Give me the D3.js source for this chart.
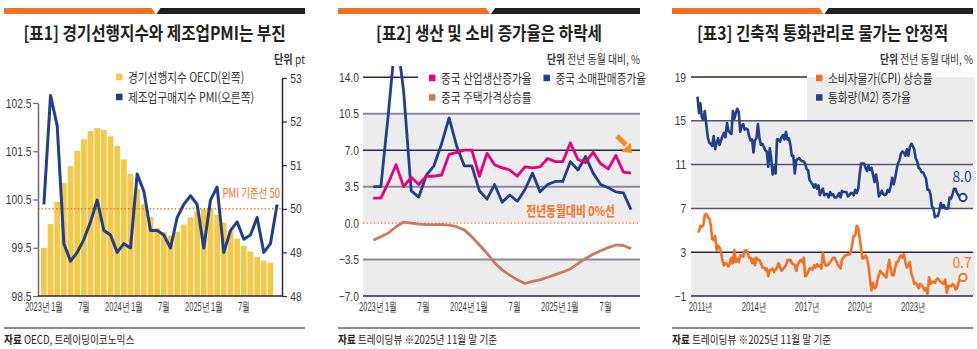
<!DOCTYPE html>
<html>
<head>
<meta charset="utf-8">
<script src="https://cdnjs.cloudflare.com/ajax/libs/d3/7.8.5/d3.min.js"></script>
<style>
  body { margin: 0; background: #fff; }
  svg { display: block; font-family: "Noto Sans CJK KR", "Noto Sans", sans-serif; }
</style>
</head>
<body>
<div id="chart"></div>
<script>
// ---- [표1] OECD CLI (left, bars) + China manufacturing PMI (right, line), 2023-01 ~ 2025-12
const oecdCli = [99.50, 99.99, 100.45, 100.84, 101.19, 101.51, 101.75, 101.92, 101.98, 101.94, 101.81, 101.61,
                 101.33, 101.03, 100.71, 100.40, 100.14, 99.91, 99.83, 99.75, 99.83, 99.98, 100.13, 100.25,
                 100.30, 100.30, 100.18, 100.02, 99.85, 99.69, 99.54, 99.42, 99.31, 99.23, 99.19];
const pmi = [50.1, 52.6, 51.9, 49.2, 48.8, 49.0, 49.3, 49.7, 50.2, 49.5, 49.4, 49.0,
             49.2, 49.1, 50.8, 50.4, 49.5, 49.5, 49.4, 49.1, 49.8, 50.1, 50.3, 50.1,
             49.1, 50.2, 50.5, 49.0, 49.5, 49.7, 49.3, 49.4, 49.8, 49.0, 49.2, 50.1];
const leftTicks1 = [98.5, 99.5, 100.5, 101.5, 102.5];
const rightTicks1 = [48, 49, 50, 51, 52, 53];
const monthTickIdx = [0, 6, 12, 18, 24, 30];
const monthTickLabels = ["2023년 1월", "7월", "2024년 1월", "7월", "2025년 1월", "7월"];

// ---- [표2] China IP / retail sales / house prices YoY, 2023-01 ~ 2025-11
const industrialProd = [2.4, 2.4, 3.9, 5.6, 3.5, 4.4, 3.7, 4.5, 4.5, 4.6, 6.6, 6.8,
                        7.0, 7.0, 4.5, 6.7, 5.6, 5.3, 5.1, 4.5, 5.4, 5.3, 5.4, 6.2,
                        5.9, 5.9, 7.7, 6.1, 5.8, 6.8, 5.7, 5.2, 6.5, 4.9, 4.8];
const retailSales = [3.5, 3.5, 10.6, 18.4, 12.7, 3.1, 2.5, 4.6, 5.5, 7.6, 10.1, 7.4,
                     5.5, 5.5, 3.1, 2.3, 3.7, 2.0, 2.7, 2.1, 3.2, 4.8, 3.0, 3.7,
                     4.0, 4.0, 5.9, 5.1, 6.4, 4.8, 3.7, 3.4, 3.0, 2.9, 1.3];
const housePrice = [-1.65, -1.3, -0.95, -0.35, 0.1, 0.0, -0.1, -0.15, -0.15, -0.15, -0.2, -0.35,
                    -0.65, -1.3, -2.1, -2.9, -3.8, -4.5, -5.0, -5.45, -5.8, -5.6, -5.45, -5.2,
                    -4.95, -4.7, -4.4, -3.9, -3.4, -3.0, -2.65, -2.35, -2.1, -2.15, -2.45];
const ticks2 = [-7, -3.5, 0, 3.5, 7, 10.5, 14];

// ---- [표3] China CPI and M2 YoY, 2011-01 ~ 2025-11
const cpi = [
  4.9, 4.9, 5.4, 5.3, 5.5, 6.4, 6.5, 6.2, 6.1, 5.5, 4.2, 4.1,
  4.5, 3.2, 3.6, 3.4, 3.0, 2.2, 1.8, 2.0, 1.9, 1.7, 2.0, 2.5,
  2.0, 3.2, 2.1, 2.4, 2.1, 2.7, 2.7, 2.6, 3.1, 3.2, 3.0, 2.5,
  2.5, 2.0, 2.4, 1.8, 2.5, 2.3, 2.3, 2.0, 1.6, 1.6, 1.4, 1.5,
  0.8, 1.4, 1.4, 1.5, 1.2, 1.4, 1.6, 2.0, 1.6, 1.3, 1.5, 1.6,
  1.8, 2.3, 2.3, 2.3, 2.0, 1.9, 1.8, 1.3, 1.9, 2.1, 2.3, 2.1,
  2.5, 0.8, 0.9, 1.2, 1.5, 1.5, 1.4, 1.8, 1.6, 1.9, 1.7, 1.8,
  1.5, 2.9, 2.1, 1.8, 1.8, 1.9, 2.1, 2.3, 2.5, 2.5, 2.2, 1.9,
  1.7, 1.5, 2.3, 2.5, 2.7, 2.7, 2.8, 2.8, 3.0, 3.8, 4.5, 4.5,
  5.4, 5.2, 4.3, 3.3, 2.4, 2.5, 2.7, 2.4, 1.7, 0.5, -0.5, 0.2,
  -0.3, -0.2, 0.4, 0.9, 1.3, 1.1, 1.0, 0.8, 0.7, 1.5, 2.3, 1.5,
  0.9, 0.9, 1.5, 2.1, 2.1, 2.5, 2.7, 2.5, 2.8, 2.1, 1.6, 1.8,
  2.1, 1.0, 0.7, 0.1, 0.2, 0.0, -0.3, 0.1, 0.0, -0.2, -0.5, -0.3,
  -0.8, 0.7, 0.1, 0.3, 0.3, 0.2, 0.5, 0.6, 0.4, 0.3, 0.2, 0.1,
  0.5, -0.7, -0.1, -0.1, -0.1, 0.1, 0.0, -0.4, -0.3, 0.2, 0.7];
const m2 = [
  17.2, 15.7, 16.6, 15.3, 15.1, 15.9, 14.7, 13.5, 13.0, 12.9, 12.7, 13.6,
  12.4, 13.0, 13.4, 12.8, 13.2, 13.6, 13.9, 13.5, 14.8, 14.1, 13.9, 13.8,
  15.9, 15.2, 15.7, 16.1, 15.8, 14.0, 14.5, 14.7, 14.2, 14.3, 14.2, 13.6,
  13.2, 13.3, 12.1, 13.2, 13.4, 14.7, 13.5, 12.8, 12.9, 12.6, 12.3, 12.2,
  10.8, 12.5, 11.6, 10.1, 10.8, 10.2, 13.3, 13.3, 13.1, 13.5, 13.7, 13.3,
  14.0, 13.3, 13.4, 12.8, 11.8, 11.8, 10.2, 11.4, 11.5, 11.6, 11.4, 11.3,
  11.3, 11.1, 10.6, 10.5, 9.6, 9.4, 9.2, 8.9, 9.2, 8.8, 9.1, 8.2,
  8.6, 8.8, 8.2, 8.3, 8.3, 8.0, 8.5, 8.2, 8.3, 8.0, 8.0, 8.1,
  8.4, 8.0, 8.6, 8.5, 8.5, 8.5, 8.1, 8.2, 8.4, 8.4, 8.2, 8.7,
  8.4, 8.8, 10.1, 11.1, 11.1, 11.1, 10.7, 10.4, 10.9, 10.5, 10.7, 10.1,
  9.4, 10.1, 9.4, 8.1, 8.3, 8.6, 8.3, 8.2, 8.3, 8.7, 8.5, 9.0,
  9.8, 9.2, 9.7, 10.5, 11.1, 11.4, 12.0, 12.2, 12.1, 11.8, 12.4, 11.8,
  12.6, 12.9, 12.7, 12.4, 11.6, 11.3, 10.7, 10.6, 10.3, 10.3, 10.0, 9.7,
  8.7, 8.7, 8.3, 7.2, 7.0, 6.2, 6.3, 6.3, 6.8, 7.5, 7.1, 7.3,
  7.0, 7.0, 7.0, 8.0, 7.9, 8.3, 8.8, 8.8, 8.4, 8.2, 8.0];
const ticks3 = [-1, 3, 7, 11, 15, 19];
const yearTicks3 = [2011, 2014, 2017, 2020, 2023];

// ---- colours
const ORANGE = "#f37021", BLACK = "#231f20", NAVY = "#233e8b", YELLOW = "#f3c94a",
      PINK = "#e5007e", BROWN = "#c97a5d", GRID = "#8e869e", GRID_DARK = "#2d2548",
      SHADE = "#ececec", TXT = "#3a3a3a";

const svg = d3.select("#chart").append("svg").attr("width", 977).attr("height", 349);
svg.append("rect").attr("width", 977).attr("height", 349).attr("fill", "#fff");

// text with horizontal squeeze (the original uses a narrow Korean face)
function label(g, x, y, parts, { size = 12, anchor = "start", sx = 0.82, fill = TXT, weight = 400 } = {}) {
  const t = g.append("text")
    .attr("transform", `translate(${x},${y}) scale(${sx},1)`)
    .attr("text-anchor", anchor)
    .attr("fill", fill)
    .style("font-size", size + "px");
  (Array.isArray(parts) ? parts : [[parts, weight]]).forEach(([s, w]) => {
    t.append("tspan").attr("font-weight", w || weight).text(s);
  });
  return t;
}

function frame(x0, x1, title, source) {
  const g = svg.append("g");
  const mid = (x0 + x1) / 2;
  g.append("polygon").attr("points", `${x0},8 ${mid - 3},8 ${mid + 1},14 ${x0},14`).attr("fill", ORANGE);
  g.append("polygon").attr("points", `${mid + 2},14 ${mid + 6},8 ${x1},8 ${x1},14`).attr("fill", BLACK);
  label(g, mid, 39.5, [[title, 700]], { size: 18, anchor: "middle", sx: 0.87, fill: BLACK });
  g.append("line").attr("x1", x0).attr("x2", x1).attr("y1", 328).attr("y2", 328)
    .attr("stroke", "#8a8a8a").attr("stroke-width", 2);
  label(g, x0, 344, [["자료 ", 700], [source, 400]], { size: 11.5, sx: 0.84, fill: BLACK });
  return g;
}

function legendItem(g, x, y, color, text) {
  g.append("rect").attr("x", x).attr("y", y - 3.3).attr("width", 6.5).attr("height", 6.5).attr("fill", color);
  label(g, x + 12, y + 4.5, text, { size: 13, sx: 0.82, fill: "#333" });
}

function styleTickText(axisG, sx) {
  axisG.selectAll("text").attr("fill", TXT)
    .style("font-size", "12.5px")
    .attr("transform", `scale(${sx},1)`);
}

// ================= [표1]
{
  const g = frame(4, 305, "[표1] 경기선행지수와 제조업PMI는 부진", "OECD, 트레이딩이코노믹스");
  const x = d3.scaleBand().domain(d3.range(pmi.length)).range([41, 280]).paddingInner(0.13).paddingOuter(0);
  const yL = d3.scaleLinear().domain([98.5, 102.5]).range([296, 103]);
  const yR = d3.scaleLinear().domain([48, 53]).range([296, 78]);

  g.selectAll("rect.bar").data(oecdCli).join("rect").attr("class", "bar")
    .attr("x", (d, i) => x(i)).attr("width", x.bandwidth())
    .attr("y", d => yL(d)).attr("height", d => yL(98.5) - yL(d))
    .attr("fill", YELLOW);

  // PMI 50 reference line
  g.append("line").attr("x1", 38).attr("x2", 282).attr("y1", yR(50)).attr("y2", yR(50))
    .attr("stroke", ORANGE).attr("stroke-width", 1.4).attr("stroke-dasharray", "1.4,2.2");
  label(g, 280, 198, "PMI 기준선 50", { size: 12.5, anchor: "end", sx: 0.76, fill: ORANGE });

  g.append("path").datum(pmi)
    .attr("d", d3.line().x((d, i) => x(i) + x.bandwidth() / 2).y(d => yR(d)))
    .attr("fill", "none").attr("stroke", NAVY).attr("stroke-width", 3).attr("stroke-linejoin", "round");

  const axL = g.append("g").attr("transform", "translate(38,0)")
    .call(d3.axisLeft(yL).tickValues(leftTicks1).tickFormat(d3.format(".1f")).tickSize(5).tickSizeOuter(0).tickPadding(3));
  axL.select(".domain").attr("stroke", "#6f6782").attr("stroke-width", 1.5);
  axL.selectAll(".tick line").attr("stroke", "#6f6782").attr("stroke-width", 1.2);
  styleTickText(axL, 0.82);

  const axR = g.append("g").attr("transform", "translate(282,0)")
    .call(d3.axisRight(yR).tickValues(rightTicks1).tickFormat(d3.format("d")).tickSize(5).tickSizeOuter(0).tickPadding(5));
  axR.select(".domain").attr("stroke", GRID_DARK).attr("stroke-width", 1.5);
  axR.selectAll(".tick line").attr("stroke", GRID_DARK).attr("stroke-width", 1.2);
  styleTickText(axR, 0.82);

  g.append("line").attr("x1", 38).attr("x2", 282).attr("y1", 296).attr("y2", 296)
    .attr("stroke", GRID_DARK).attr("stroke-width", 1.5);

  const axB = g.append("g").attr("transform", "translate(0,296)")
    .call(d3.axisBottom(x).tickValues(monthTickIdx).tickSize(0).tickPadding(6)
      .tickFormat(i => monthTickLabels[monthTickIdx.indexOf(i)]));
  axB.select(".domain").remove();
  styleTickText(axB, 0.6);

  legendItem(g, 116, 77, YELLOW, "경기선행지수 OECD(왼쪽)");
  legendItem(g, 116, 97, NAVY, "제조업구매지수 PMI(오른쪽)");
  label(g, 305, 63.5, [["단위 ", 700], ["pt", 400]], { size: 12, anchor: "end", sx: 0.85, fill: "#333" });
}

// ================= [표2]
{
  const g = frame(338, 640, "[표2] 생산 및 소비 증가율은 하락세", "트레이딩뷰  ※2025년 11월 말 기준");
  const x = d3.scaleLinear().domain([0, industrialProd.length - 1]).range([373.3, 631]);
  const y = d3.scaleLinear().domain([-7, 14]).range([296, 77.3]);
  const gx0 = 363, gx1 = 640;

  g.append("rect").attr("x", gx0).attr("width", gx1 - gx0).attr("y", y(10.5)).attr("height", y(0) - y(10.5)).attr("fill", SHADE);
  g.append("rect").attr("x", gx0).attr("width", gx1 - gx0).attr("y", y(-3.5)).attr("height", y(-7) - y(-3.5)).attr("fill", SHADE);

  [10.5, 3.5, -3.5].forEach(v => g.append("line").attr("x1", gx0).attr("x2", gx1).attr("y1", y(v)).attr("y2", y(v))
    .attr("stroke", GRID).attr("stroke-width", 2));
  g.append("line").attr("x1", gx0).attr("x2", gx1).attr("y1", y(7)).attr("y2", y(7)).attr("stroke", GRID_DARK).attr("stroke-width", 1.5);
  g.append("line").attr("x1", gx0).attr("x2", gx1).attr("y1", y(-7)).attr("y2", y(-7)).attr("stroke", GRID_DARK).attr("stroke-width", 1.5);
  g.append("line").attr("x1", gx0).attr("x2", 418).attr("y1", y(14)).attr("y2", y(14)).attr("stroke", GRID_DARK).attr("stroke-width", 1.5);
  g.append("line").attr("x1", gx0).attr("x2", gx1).attr("y1", y(0)).attr("y2", y(0))
    .attr("stroke", ORANGE).attr("stroke-width", 1.4).attr("stroke-dasharray", "1.4,2.2");

  const axL = g.append("g").attr("transform", `translate(${gx0},0)`)
    .call(d3.axisLeft(y).tickValues(ticks2).tickFormat(d3.format(".1f")).tickSize(0).tickPadding(5));
  axL.select(".domain").remove();
  styleTickText(axL, 0.82);

  const axB = g.append("g").attr("transform", "translate(4,296)")
    .call(d3.axisBottom(x).tickValues(monthTickIdx).tickSize(0).tickPadding(6)
      .tickFormat(i => monthTickLabels[monthTickIdx.indexOf(i)]));
  axB.select(".domain").remove();
  styleTickText(axB, 0.6);

  svg.append("clipPath").attr("id", "clip2").append("rect").attr("x", 350).attr("y", 66).attr("width", 300).attr("height", 240);
  const lines = g.append("g").attr("clip-path", "url(#clip2)");
  const line = d3.line().x((d, i) => x(i)).y(d => y(d));
  [[housePrice, BROWN], [retailSales, NAVY], [industrialProd, PINK]].forEach(([data, c]) => {
    lines.append("path").datum(data).attr("d", line)
      .attr("fill", "none").attr("stroke", c).attr("stroke-width", 2.8).attr("stroke-linejoin", "round");
  });

  label(g, 615, 216, "전년동월대비 0%선", { size: 13.5, anchor: "end", sx: 0.8, fill: ORANGE, weight: 700 });
  // small arrow
  g.append("line").attr("x1", 617).attr("y1", 136).attr("x2", 626).attr("y2", 145)
    .attr("stroke", "#f68b1f").attr("stroke-width", 5);
  g.append("polygon").attr("points", "632,153 630.8,142.4 621.4,151.8").attr("fill", "#f68b1f");

  legendItem(g, 429, 78, PINK, "중국 산업생산증가율");
  legendItem(g, 543.5, 78, NAVY, "중국 소매판매증가율");
  legendItem(g, 429, 97.5, BROWN, "중국 주택가격상승률");
  label(g, 640, 63.5, [["단위 ", 700], ["전년 동월 대비, %", 400]], { size: 12, anchor: "end", sx: 0.82, fill: "#333" });
}

// ================= [표3]
{
  const g = frame(672, 973, "[표3] 긴축적 통화관리로 물가는 안정적", "트레이딩뷰  ※2025년 11월 말 기준");
  const months = d3.timeMonth.range(new Date(2011, 0, 1), new Date(2025, 11, 1));
  const x = d3.scaleTime().domain([months[0], months[months.length - 1]]).range([697.5, 960]);
  const y = d3.scaleLinear().domain([-1, 19]).range([296, 77]);
  const gx0 = 691, gx1 = 973;

  g.append("rect").attr("x", 807).attr("width", gx1 + 2 - 807).attr("y", y(19)).attr("height", y(15) - y(19)).attr("fill", SHADE);
  g.append("rect").attr("x", gx0).attr("width", gx1 + 2 - gx0).attr("y", y(15)).attr("height", y(7) - y(15)).attr("fill", SHADE);
  g.append("rect").attr("x", gx0).attr("width", gx1 + 2 - gx0).attr("y", y(3)).attr("height", y(-1) - y(3)).attr("fill", SHADE);

  [15, 11, 7].forEach(v => g.append("line").attr("x1", gx0).attr("x2", gx1).attr("y1", y(v)).attr("y2", y(v))
    .attr("stroke", "#5a5170").attr("stroke-width", 1.5));
  [3, -1].forEach(v => g.append("line").attr("x1", gx0).attr("x2", gx1).attr("y1", y(v)).attr("y2", y(v))
    .attr("stroke", GRID_DARK).attr("stroke-width", 1.5));
  g.append("line").attr("x1", gx0).attr("x2", 807).attr("y1", y(19)).attr("y2", y(19)).attr("stroke", GRID_DARK).attr("stroke-width", 1.5);

  const axL = g.append("g").attr("transform", `translate(${gx0},0)`)
    .call(d3.axisLeft(y).tickValues(ticks3).tickSize(0).tickPadding(6));
  axL.select(".domain").remove();
  styleTickText(axL, 0.82);

  const axB = g.append("g").attr("transform", "translate(0,296)")
    .call(d3.axisBottom(x).tickValues(yearTicks3.map(yr => new Date(yr, 2, 1))).tickSize(0).tickPadding(6)
      .tickFormat(d => d.getFullYear() + "년"));
  axB.select(".domain").remove();
  styleTickText(axB, 0.62);

  const line = d3.line().x((d, i) => x(months[i])).y(d => y(d));
  [[cpi, ORANGE], [m2, NAVY]].forEach(([data, c]) => {
    g.append("path").datum(data).attr("d", line)
      .attr("fill", "none").attr("stroke", c).attr("stroke-width", 2.6).attr("stroke-linejoin", "round");
    g.append("circle").attr("cx", x(months[data.length - 1]) + 3).attr("cy", y(data[data.length - 1]))
      .attr("r", 3.6).attr("fill", "#fff").attr("stroke", c).attr("stroke-width", 2);
  });
  label(g, 962, 182, d3.format(".1f")(m2[m2.length - 1]), { size: 14.5, anchor: "middle", sx: 0.95, fill: NAVY });
  label(g, 962, 268, d3.format(".1f")(cpi[cpi.length - 1]), { size: 14.5, anchor: "middle", sx: 0.95, fill: ORANGE });

  legendItem(g, 816, 78, ORANGE, "소비자물가(CPI) 상승률");
  legendItem(g, 816, 97.5, NAVY, "통화량(M2) 증가율");
  label(g, 973, 63.5, [["단위 ", 700], ["전년 동월 대비, %", 400]], { size: 12, anchor: "end", sx: 0.82, fill: "#333" });
}
</script>
</body>
</html>
